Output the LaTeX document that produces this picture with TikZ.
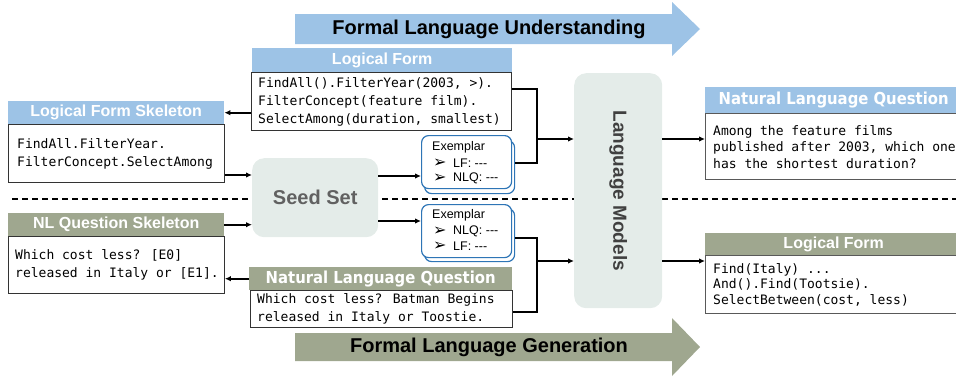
\documentclass[tikz,border=0pt]{standalone}
\usepackage{fontspec}
\setmainfont{Liberation Sans}
\newfontfamily\monofont{DejaVu Sans Mono}
\newfontfamily\nlqfont{DejaVu Sans}[FakeStretch=0.9]
\newfontfamily\symfont{DejaVu Sans}
\usetikzlibrary{arrows.meta}
\definecolor{hblue}{HTML}{9DC3E6}
\definecolor{hgreen}{HTML}{9FA78F}
\definecolor{softfill}{HTML}{E4ECE9}
\definecolor{exblue}{HTML}{2E75B6}
\begin{document}
\begin{tikzpicture}[x=1pt,y=-1pt,
  hdr/.style={anchor=north west, inner sep=0pt, text=white, font=\bfseries\fontsize{16}{16}\selectfont},
  hdrb/.style={hdr, fill=hblue},
  hdrg/.style={hdr, fill=hgreen},
  nlqhdr/.style={font=\nlqfont\bfseries\fontsize{16.5}{16.5}\selectfont},
  body/.style={anchor=north west, inner sep=0pt, draw=black!80, line width=0.9pt, fill=white},
  rbody/.style={body, draw=black!65, line width=1.3pt},
  mono/.style={anchor=west, inner sep=0pt, align=left, font=\monofont\fontsize{13}{18}\selectfont},
  conn/.style={line width=1.6pt, -{Latex[length=6pt,width=5.5pt]}},
  link/.style={line width=1.6pt},
  soft/.style={anchor=north west, fill=softfill, rounded corners=12pt, inner sep=0pt},
  exbox/.style={anchor=north west, draw=exblue, line width=1.2pt, fill=white, rounded corners=7pt, minimum width=90pt, minimum height=53pt, inner sep=0pt},
  extext/.style={anchor=west, inner sep=0pt, font=\fontsize{12.5}{12.5}\selectfont},
  exsym/.style={anchor=west, inner sep=0pt, font=\symfont\fontsize{16}{16}\selectfont},
  bigtext/.style={font=\bfseries\fontsize{20}{20}\selectfont}
]
\useasboundingbox (0,0) rectangle (956,376);

% dashed separator
\draw[dash pattern=on 6pt off 4pt, line width=1.2pt] (12,199) -- (956,199);

% big arrows
\fill[hblue] (295,14) -- (672,14) -- (672,2) -- (700,29) -- (672,56) -- (672,44) -- (295,44) -- cycle;
\node[bigtext] (flu) at (489,29) {Formal Language Understanding};
\fill[hgreen] (295,333) -- (672,333) -- (672,318) -- (700,347) -- (672,376) -- (672,361) -- (295,361) -- cycle;
\node[bigtext] (flg) at (489,347) {Formal Language Generation};

% soft boxes
\node[soft, minimum width=126pt, minimum height=79pt, font=\bfseries\fontsize{20}{20}\selectfont, text=black!62] (seed) at (252,158) {Seed Set};
\node[soft, minimum width=88pt, minimum height=235pt] (lm) at (574,73) {};
\node[rotate=-90, font=\bfseries\fontsize{19}{19}\selectfont, text=black!75] (lmt) at (lm.center) {Language Models};

% Logical Form (top)
\node[hdrb, minimum width=260pt, minimum height=24pt] (lfh) at (252,48) {Logical Form};
\node[body, minimum width=260pt, minimum height=58pt] (lfb) at (251,72) {};
\node[mono] (lft) at ([xshift=7pt]lfb.west) {FindAll().FilterYear(2003, >).\\FilterConcept(feature film).\\SelectAmong(duration, smallest)};

% Logical Form Skeleton
\node[hdrb, minimum width=216pt, minimum height=23pt] (lfsh) at (8,101) {Logical Form Skeleton};
\node[body, minimum width=216pt, minimum height=58pt] (lfsb) at (8,124) {};
\node[mono] (lfst) at ([xshift=9pt]lfsb.west) {FindAll.FilterYear.\\FilterConcept.SelectAmong};

% NL Question Skeleton
\node[hdrg, minimum width=216pt, minimum height=23pt] (nqsh) at (8,213) {NL Question Skeleton};
\node[body, minimum width=216pt, minimum height=57pt] (nqsb) at (8,236) {};
\node[mono] (nqst) at ([xshift=7pt]nqsb.west) {Which cost less? [E0]\\released in Italy or [E1].};

% Natural Language Question (bottom)
\node[hdrg, nlqhdr, minimum width=263pt, minimum height=23pt] (nqh) at (249,267) {Natural Language Question};
\node[body, minimum width=262pt, minimum height=37pt] (nqb) at (250,290) {};
\node[mono] (nqt) at ([xshift=7pt]nqb.west) {Which cost less? Batman Begins\\released in Italy or Toostie.};

% Natural Language Question (right)
\node[hdrb, nlqhdr, minimum width=257pt, minimum height=26pt] (nqrh) at (705,87) {Natural Language Question};
\node[rbody, minimum width=257pt, minimum height=66pt] (nqrb) at (705,113) {};
\node[mono, font=\monofont\fontsize{13}{16.5}\selectfont] (nqrt) at ([xshift=8pt]nqrb.west) {Among the feature films\\published after 2003, which one\\has the shortest duration?};

% Logical Form (right)
\node[hdrg, minimum width=257pt, minimum height=22pt] (lfrh) at (705,233) {Logical Form};
\node[rbody, minimum width=257pt, minimum height=58pt] (lfrb) at (705,255) {};
\node[mono, font=\monofont\fontsize{13}{15.5}\selectfont] (lfrt) at ([xshift=8pt]lfrb.west) {Find(Italy) ...\\And().Find(Tootsie).\\SelectBetween(cost, less)};

% Exemplars
\node[exbox] (ex1b) at (424,140) {};
\node[exbox] (ex1) at (421,135) {};
\node[extext] (ex1t) at ([xshift=11pt,yshift=-12pt]ex1.north west) {Exemplar};
\node[exsym] (ex1s1) at ([xshift=12pt,yshift=-28pt]ex1.north west) {➢};
\node[extext] (ex1l1) at ([xshift=32pt,yshift=-28pt]ex1.north west) {LF: -\kern0pt-\kern0pt-};
\node[exsym] (ex1s2) at ([xshift=12pt,yshift=-43pt]ex1.north west) {➢};
\node[extext] (ex1l2) at ([xshift=32pt,yshift=-43pt]ex1.north west) {NLQ: -\kern0pt-\kern0pt-};

\node[exbox] (ex2b) at (424,208) {};
\node[exbox] (ex2) at (421,204) {};
\node[extext] (ex2t) at ([xshift=11pt,yshift=-11pt]ex2.north west) {Exemplar};
\node[exsym] (ex2s1) at ([xshift=12pt,yshift=-27pt]ex2.north west) {➢};
\node[extext] (ex2l1) at ([xshift=32pt,yshift=-27pt]ex2.north west) {NLQ: -\kern0pt-\kern0pt-};
\node[exsym] (ex2s2) at ([xshift=12pt,yshift=-42pt]ex2.north west) {➢};
\node[extext] (ex2l2) at ([xshift=32pt,yshift=-42pt]ex2.north west) {LF: -\kern0pt-\kern0pt-};

% junctions
\coordinate (j1) at (537,139);
\coordinate (j2) at (537,261);

% connectors
\draw[conn] (lfb.west |- lfsh.east) -- (lfsh.east);
\draw[conn] (lfsb.east |- 0,175) -- (seed.west |- 0,175);
\draw[conn] (seed.east |- 0,176) -- (ex1.west |- 0,176);
\draw[conn] (nqsh.east) -- (seed.west |- nqsh.east);
\draw[conn] (seed.east |- 0,221) -- (ex2.west |- 0,221);
\draw[conn] (nqh.west) -- (nqsb.east |- nqh.west);
\draw[link] (lfb.east |- 0,89) -| (j1) |- (ex1b.east |- 0,163);
\draw[conn] (j1) -- (lm.west |- j1);
\draw[link] (ex2b.east |- 0,238) -| (j2) |- (nqb.east |- 0,312);
\draw[conn] (j2) -- (lm.west |- j2);
\draw[conn] (lm.east |- j1) -- (nqrb.west |- j1);
\draw[conn] (lm.east |- j2) -- (lfrb.west |- j2);
\end{tikzpicture}
\end{document}
